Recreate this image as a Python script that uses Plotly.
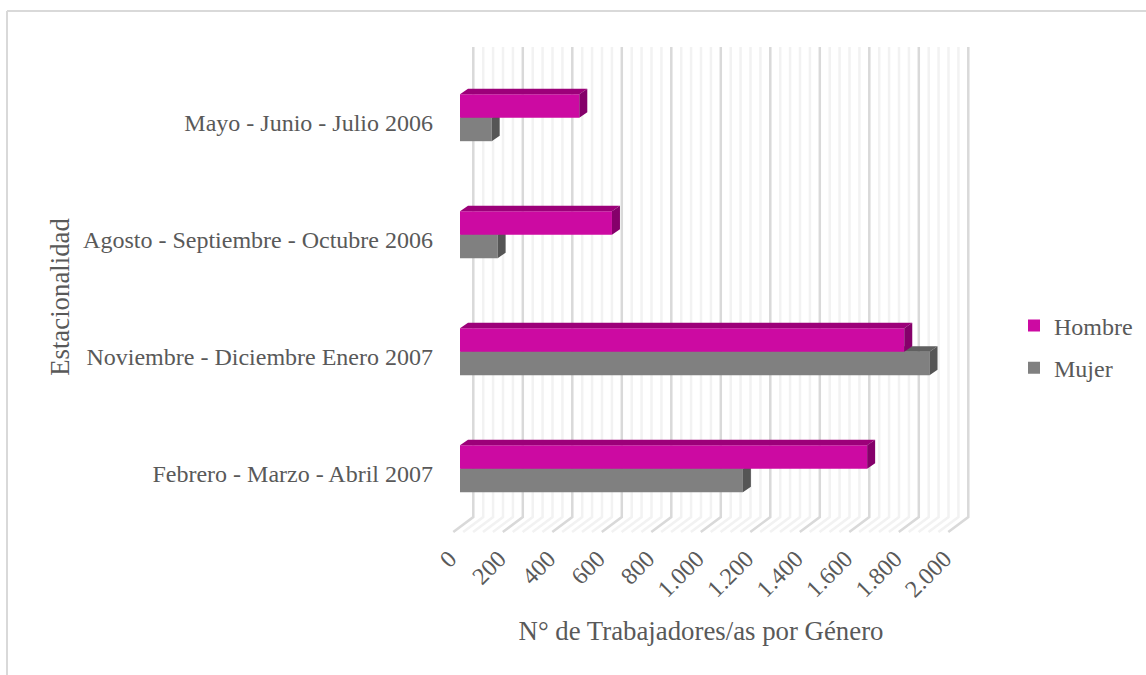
import plotly.graph_objects as go

categories = ["Febrero - Marzo - Abril 2007", "Noviembre - Diciembre Enero 2007",
              "Agosto - Septiembre - Octubre 2006", "Mayo - Junio - Julio 2006"]
hombre = [1645, 1795, 614, 482]
mujer = [1143, 1897, 152, 128]
major_ticks = [0, 200, 400, 600, 800, 1000, 1200, 1400, 1600, 1800, 2000]
major_labels = ["0", "200", "400", "600", "800", "1.000", "1.200", "1.400", "1.600", "1.800", "2.000"]
minor_ticks = [v for v in range(0, 2001, 40) if v % 200]

W, H = 1146, 675
PX_PER_UNIT = 0.2475
DOM_L, DOM_R = 424, 978
DOM_T, DOM_B = 47, 547
ROW_PX = 117
Y0_PX = 474
positions = list(range(len(categories)))


def xrange_for(zero_px):
    return [(DOM_L - zero_px) / PX_PER_UNIT, (DOM_R - zero_px) / PX_PER_UNIT]


def ypx(px):
    return (Y0_PX - px) / ROW_PX


BAR_H = 23.5 / ROW_PX
HOMBRE_OFF = 0.145
MUJER_OFF = -0.055
DEPTH_X = 8 / PX_PER_UNIT
DEPTH_Y = 5.5 / ROW_PX

# tick axis has its zero at TICK_ZERO; bars have theirs at BAR_ZERO
TICK_ZERO = 449.5
BAR_ZERO = 460
WALL_SHIFT = (473.3 - TICK_ZERO) / PX_PER_UNIT
FLOOR_SHIFT = (453.3 - TICK_ZERO) / PX_PER_UNIT


def grid_xy(ticks):
    xs, ys = [], []
    for v in ticks:
        xs += [v + WALL_SHIFT, v + WALL_SHIFT, v + FLOOR_SHIFT, None]
        ys += [ypx(47), ypx(517), ypx(532), None]
    return xs, ys


def top_face(values, off):
    xs, ys = [], []
    for p, v in zip(positions, values):
        t = p + off + BAR_H / 2
        xs += [0, v, v + DEPTH_X, DEPTH_X, 0, None]
        ys += [t, t, t + DEPTH_Y, t + DEPTH_Y, t, None]
    return xs, ys


def side_face(values, off):
    xs, ys = [], []
    for p, v in zip(positions, values):
        t, b = p + off + BAR_H / 2, p + off - BAR_H / 2
        xs += [v, v + DEPTH_X, v + DEPTH_X, v, v, None]
        ys += [t, t + DEPTH_Y, b + DEPTH_Y, b, t, None]
    return xs, ys


def face(xy, color, xaxis):
    return go.Scatter(x=xy[0], y=xy[1], xaxis=xaxis, yaxis="y", mode="lines", fill="toself",
                      fillcolor=color, line=dict(width=0), showlegend=False, hoverinfo="skip")


fig = go.Figure()
mx, my = grid_xy(minor_ticks)
fig.add_trace(go.Scatter(x=mx, y=my, mode="lines", line=dict(color="#f2f2f2", width=2.5),
                         showlegend=False, hoverinfo="skip"))
Mx, My = grid_xy(major_ticks)
fig.add_trace(go.Scatter(x=Mx, y=My, mode="lines", line=dict(color="#d9d9d9", width=2.5),
                         showlegend=False, hoverinfo="skip"))

fig.add_trace(go.Bar(name="Hombre", y=[p + HOMBRE_OFF for p in positions], x=hombre, width=BAR_H,
                     orientation="h", xaxis="x3", yaxis="y", marker=dict(color="#cc0aa2", line=dict(width=0)),
                     legendgroup="h"))
fig.add_trace(go.Bar(name="Mujer", y=[p + MUJER_OFF for p in positions], x=mujer, width=BAR_H,
                     orientation="h", xaxis="x2", yaxis="y", marker=dict(color="#808080", line=dict(width=0)),
                     legendgroup="m"))
fig.add_trace(face(top_face(mujer, MUJER_OFF), "#606060", "x2"))
fig.add_trace(face(side_face(mujer, MUJER_OFF), "#555555", "x2"))
fig.add_trace(face(top_face(hombre, HOMBRE_OFF), "#9c0079", "x3"))
fig.add_trace(face(side_face(hombre, HOMBRE_OFF), "#85006a", "x3"))

FONT = "Liberation Serif"
TXT = "#595959"
border = dict(color="#d9d9d9", width=2)
fig.update_layout(
    width=W, height=H, margin=dict(l=0, r=0, t=0, b=0), autosize=False,
    paper_bgcolor="white", plot_bgcolor="rgba(0,0,0,0)", barmode="overlay",
    font=dict(family=FONT, color=TXT, size=24),
    xaxis=dict(domain=[DOM_L / W, DOM_R / W], range=xrange_for(TICK_ZERO), anchor="free",
               position=1 - 539 / H, tickmode="array", tickvals=major_ticks, ticktext=major_labels,
               tickangle=-45, showgrid=False, zeroline=False, showline=False, ticks="",
               tickfont=dict(size=24, family=FONT, color=TXT),
               title=dict(text="N° de Trabajadores/as por Género", standoff=20,
                          font=dict(size=26.8, family=FONT, color=TXT))),
    xaxis2=dict(domain=[DOM_L / W, DOM_R / W], range=xrange_for(BAR_ZERO), overlaying="x",
                anchor="y", visible=False),
    xaxis3=dict(domain=[DOM_L / W, DOM_R / W], range=xrange_for(BAR_ZERO), overlaying="x",
                anchor="y", visible=False),
    yaxis=dict(domain=[1 - DOM_B / H, 1 - DOM_T / H], range=[ypx(DOM_B), ypx(DOM_T)],
               anchor="free", position=433 / W, tickmode="array", tickvals=positions, ticktext=categories,
               showgrid=False, zeroline=False, showline=False, ticks="",
               tickfont=dict(size=24, family=FONT, color=TXT),
               title=dict(text="Estacionalidad", standoff=4, font=dict(size=26.8, family=FONT, color=TXT))),
    legend=dict(x=1014 / W, y=1 - 347 / H, xanchor="left", yanchor="middle", traceorder="grouped",
                tracegroupgap=8, bgcolor="rgba(0,0,0,0)", font=dict(size=24, family=FONT, color=TXT)),
    shapes=[
        dict(type="line", xref="paper", yref="paper", x0=7 / W, x1=1, y0=1 - 11 / H, y1=1 - 11 / H, line=border),
        dict(type="line", xref="paper", yref="paper", x0=7 / W, x1=7 / W, y0=0, y1=1 - 11 / H, line=border),
    ],
)
fig.write_html("out.html", config=dict(displayModeBar=False),
               post_script="document.body.style.margin='0';")
